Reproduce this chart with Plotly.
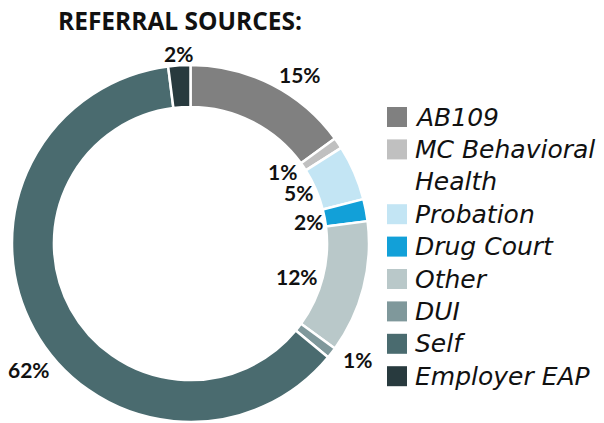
import math
import plotly.graph_objects as go

# Referral sources (percent of clients)
categories = ["AB109", "MC Behavioral Health", "Probation", "Drug Court",
              "Other", "DUI", "Self", "Employer EAP"]
shares = [15, 1, 5, 2, 12, 1, 62, 2]
colors = ["#808080", "#C0C0C0", "#C3E5F4", "#12A0D8",
          "#B9C8C9", "#7F989B", "#4A6B6F", "#283A3E"]
legend_lines = [["AB109"], ["MC Behavioral", "Health"], ["Probation"], ["Drug Court"],
                ["Other"], ["DUI"], ["Self"], ["Employer EAP"]]

# label placement: distance from centre (px) and angular nudge (deg)
label_radius = [201, 117, 120, 120, 112, 203, 205, 190]
label_nudge = [6, -4, -2, 0, 3, -3, -9, 0]

W, H = 604, 423
cx, cy, R = 190.5, 243.5, 178.5


def px(x, y):
    return x / W, 1 - y / H


fig = go.Figure(go.Pie(
    labels=categories,
    values=shares,
    hole=0.765,
    sort=False,
    direction="clockwise",
    rotation=0,
    marker=dict(colors=colors, line=dict(color="white", width=2.5)),
    textinfo="none",
    hoverinfo="label+percent",
    showlegend=False,
    domain=dict(x=[(cx - R) / W, (cx + R) / W], y=[1 - (cy + R) / H, 1 - (cy - R) / H]),
))

annotations = []
shapes = []

# percentage labels around the ring
total = sum(shares)
cum = 0
for v, r, nudge in zip(shares, label_radius, label_nudge):
    mid = (cum + v / 2) / total * 360 + nudge
    cum += v
    a = math.radians(mid)
    x, y = px(cx + r * math.sin(a), cy - r * math.cos(a))
    annotations.append(dict(
        x=x, y=y, xref="paper", yref="paper", showarrow=False,
        text=f"<b>{round(v / total * 100)}%</b>",
        font=dict(family="Lato", size=21, color="#111111"),
        xanchor="center", yanchor="middle",
    ))

# title
tx, ty = px(56, 21)
annotations.append(dict(
    x=tx, y=ty, xref="paper", yref="paper", showarrow=False,
    text="<b>REFERRAL SOURCES:</b>",
    font=dict(family="Open Sans", size=24.5, color="#111111"),
    xanchor="left", yanchor="middle",
))

# custom legend with large square swatches
line_y = 117
pitch = 32.4
for lines, col in zip(legend_lines, colors):
    y0 = line_y
    shapes.append(dict(
        type="rect", xref="paper", yref="paper",
        x0=387 / W, x1=407 / W, y0=1 - (y0 + 10) / H, y1=1 - (y0 - 10) / H,
        fillcolor=col, line=dict(width=0),
    ))
    for ln in lines:
        lx, ly = px(413, line_y)
        annotations.append(dict(
            x=lx, y=ly, xref="paper", yref="paper", showarrow=False,
            text=f"<i>{ln}</i>",
            font=dict(family="DejaVu Sans", size=25, color="#111111"),
            xanchor="left", yanchor="middle",
        ))
        line_y += pitch

fig.update_layout(
    width=W, height=H,
    margin=dict(l=0, r=0, t=0, b=0),
    paper_bgcolor="white",
    plot_bgcolor="white",
    annotations=annotations,
    shapes=shapes,
)

fig.write_html("out.html")
